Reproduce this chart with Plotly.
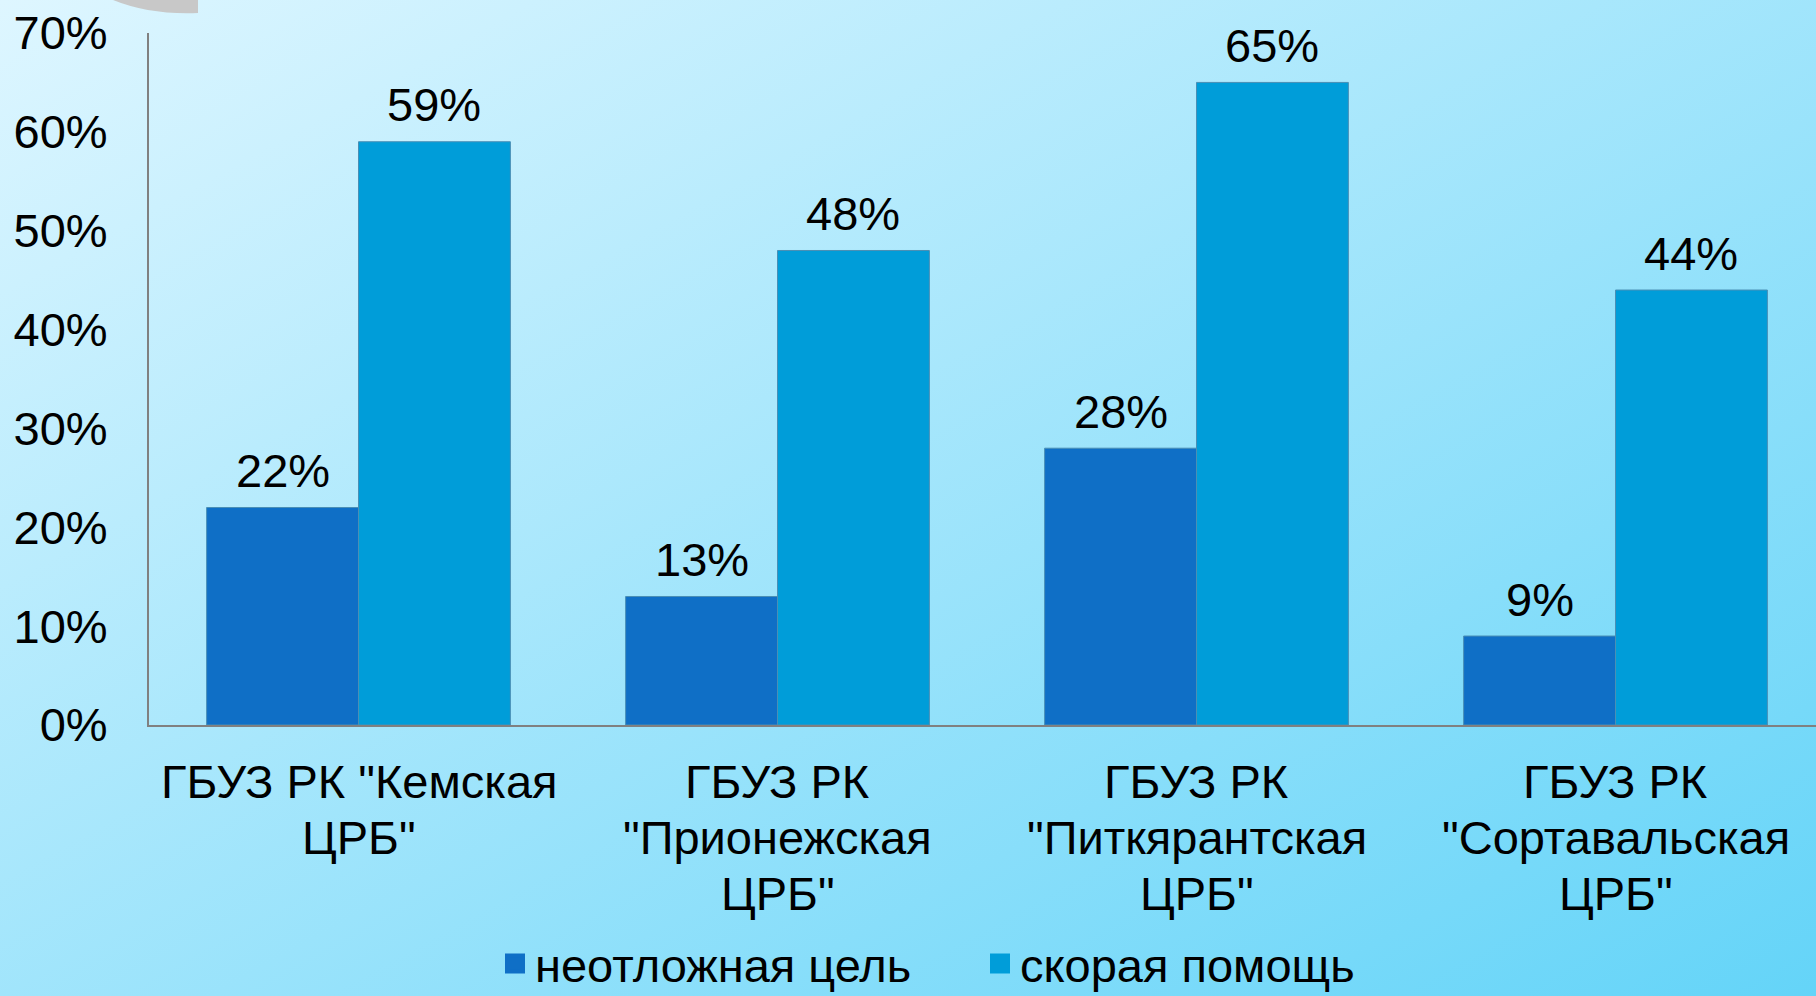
import plotly.graph_objects as go

categories = ['ГБУЗ РК "Кемская|ЦРБ"', 'ГБУЗ РК|"Прионежская|ЦРБ"',
              'ГБУЗ РК|"Питкярантская|ЦРБ"', 'ГБУЗ РК|"Сортавальская|ЦРБ"']
series_names = ["неотложная цель", "скорая помощь"]
urgent = [0.22, 0.13, 0.28, 0.09]
ambulance = [0.59, 0.48, 0.65, 0.44]
tick_vals = [0, 0.1, 0.2, 0.3, 0.4, 0.5, 0.6, 0.7]
tick_text = ["0%", "10%", "20%", "30%", "40%", "50%", "60%", "70%"]

colors = ["#0f6fc6", "#009dd9"]
FONT = "Liberation Sans, Arial, sans-serif"
FS = 47

W, H = 1816, 996
ml, mr, mt, mb = 149, 0, 33, 271
pw, ph = W - ml - mr, H - mt - mb
cat_px = 419
bar_px = cat_px * 0.725 / 2

def px(x):
    return (x - ml) / pw

def py(y):
    return (H - mb - y) / ph

fig = go.Figure()
annotations = []
for k, (name, vals, col) in enumerate(zip(series_names, [urgent, ambulance], colors)):
    fig.add_trace(go.Bar(
        x=categories, y=vals, name=name, showlegend=False,
        marker=dict(color=col, line=dict(color="#4a8fb5", width=1)),
    ))
    fig.add_trace(go.Scatter(
        x=[None], y=[None], name=name, mode="markers",
        marker=dict(symbol="square", size=16, color=col, line=dict(color=col, width=4)),
    ))
    shift = (k - 0.5) * bar_px
    for c, v in zip(categories, vals):
        annotations.append(dict(x=c, y=v, xref="x", yref="y", text=f"{round(v*100)}%",
                                showarrow=False, xshift=shift, yshift=37, yanchor="middle",
                                font=dict(size=FS, color="black", family=FONT)))

line_y = [781, 837, 893]
for c in categories:
    for i, part in enumerate(c.split("|")):
        annotations.append(dict(x=c, y=py(line_y[i]), xref="x", yref="paper", text=part,
                                showarrow=False, yanchor="middle",
                                font=dict(size=FS, color="black", family=FONT)))

svg = ("data:image/svg+xml;utf8,<svg xmlns='http://www.w3.org/2000/svg' width='1816' height='996'>"
       "<defs><linearGradient id='g' x1='0' y1='0' x2='1' y2='1'>"
       "<stop offset='0' stop-color='%23def6ff'/><stop offset='1' stop-color='%2364d4f8'/>"
       "</linearGradient></defs><rect width='1816' height='996' fill='url(%23g)'/></svg>")

fig.update_layout(
    width=W, height=H,
    margin=dict(l=ml, r=mr, t=mt, b=mb, pad=0),
    paper_bgcolor="rgba(0,0,0,0)", plot_bgcolor="rgba(0,0,0,0)",
    barmode="group", bargap=0.275, bargroupgap=0,
    font=dict(family=FONT, size=FS, color="black"),
    annotations=annotations,
    images=[dict(source=svg, xref="paper", yref="paper", x=px(0), y=py(0),
                 sizex=W / pw, sizey=H / ph, xanchor="left", yanchor="top",
                 sizing="stretch", layer="below")],
    shapes=[dict(type="path", xref="paper", yref="paper", layer="above",
                 path=f"M {px(113)},{py(0)} Q {px(150)},{py(15)} {px(198)},{py(13)} L {px(198)},{py(0)} Z",
                 fillcolor="#c8c8c8", line=dict(width=0))],
    xaxis=dict(range=[-0.5, -0.5 + pw / cat_px], showline=True, linecolor="#808080", linewidth=2,
               ticks="", showgrid=False, showticklabels=False, fixedrange=True),
    yaxis=dict(range=[0, 0.7], tickvals=tick_vals, ticktext=tick_text, showline=True,
               linecolor="#808080", linewidth=2, ticks="", showgrid=False, zeroline=False,
               tickfont=dict(size=FS), ticklabelstandoff=30, fixedrange=True),
    legend=dict(orientation="h", xref="container", yref="container",
                x=980 / W, xanchor="center", y=(H - 964) / H, yanchor="middle",
                font=dict(size=FS), bgcolor="rgba(0,0,0,0)", itemwidth=30,
                entrywidth=440, entrywidthmode="pixels", traceorder="normal"),
    showlegend=True,
)

fig.write_html("out.html", config={"displayModeBar": False},
               post_script="document.body.style.margin='0';document.body.style.padding='0';")
